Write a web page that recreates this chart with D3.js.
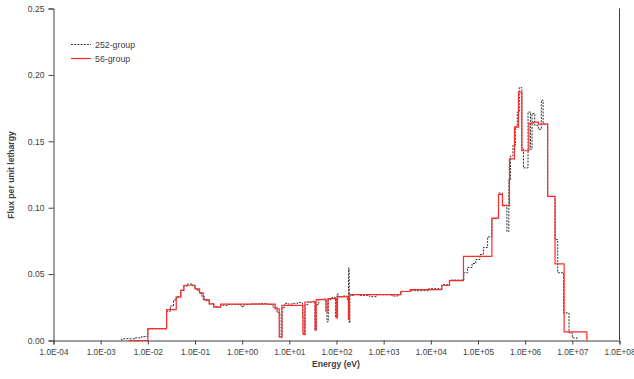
<!DOCTYPE html>
<html>
<head>
<meta charset="utf-8">
<script src="https://cdn.jsdelivr.net/npm/d3@7"></script>
<style>
  html, body { margin: 0; padding: 0; background: #fff; }
  svg { display: block; font-family: "Liberation Sans", Arial, sans-serif; }
</style>
</head>
<body>
<svg id="chart" width="634" height="379"></svg>
<script>
// Axis ticks
const xTicks = [1e-4, 1e-3, 1e-2, 1e-1, 1e0, 1e1, 1e2, 1e3, 1e4, 1e5, 1e6, 1e7, 1e8];
const yTicks = [0, 0.05, 0.10, 0.15, 0.20, 0.25];

// 56-group spectrum: group boundaries (eV) and flux per unit lethargy
const redEdges = [3.9e-3, 1e-2, 0.025, 0.04, 0.05, 0.058, 0.1, 0.125, 0.15, 0.2, 0.25, 0.35,
  5.0, 6.1, 6.95, 19.4, 21.4, 35.3, 37, 60, 65.6, 98.5, 105, 179, 188, 2317, 3650, 17140,
  24850, 49200, 1.97e5, 2.72e5, 3.3e5, 4.65e5, 5.93e5, 7.2e5, 8.5e5, 1.2e6, 1.5e6, 1.91e6,
  3.0e6, 4.3e6, 6.7e6, 2.03e7];
const redFlux = [0, 0.009, 0.0233, 0.0327, 0.0378, 0.0416, 0.0389, 0.0359, 0.0308, 0.0276,
  0.0252, 0.0274, 0.0238, 0.003, 0.0265, 0.005, 0.029, 0.0078, 0.0308, 0.0222, 0.0316, 0.017,
  0.0328, 0.0158, 0.0346, 0.0369, 0.0383, 0.0414, 0.0451, 0.0634, 0.0922, 0.110, 0.1015,
  0.1368, 0.1607, 0.187, 0.1429, 0.1637, 0.1644, 0.163, 0.1085, 0.0577, 0.0065];

// 252-group spectrum: group boundaries (eV) and flux per unit lethargy
const blackEdges = [2.8e-3, 5.4e-3, 7.4e-3, 1e-2, 0.025, 0.03, 0.035, 0.04, 0.05, 0.058, 0.07,
  0.09, 0.1, 0.115, 0.125, 0.14, 0.16, 0.2, 0.25, 0.3, 0.35, 0.5, 0.8, 0.95, 1.1, 1.5, 2.5,
  3.5, 4.5, 5.5, 6.3, 7.0, 8, 9, 12, 15, 19, 20.5, 21.5, 25, 30, 35, 37, 42, 50, 60, 63, 67,
  80, 95, 102, 110, 140, 170, 180, 186, 192, 230, 300, 500, 700, 1500, 2000, 2300, 3600, 9000,
  17000, 25000, 5e4, 6e4, 7.5e4, 9e4, 1.1e5, 1.3e5, 1.6e5, 1.97e5, 2.72e5, 3.3e5, 4.1e5,
  4.5e5, 4.9e5, 5.5e5, 6.2e5, 6.8e5, 7.5e5, 8.5e5, 9.2e5, 1.15e6, 1.3e6, 1.4e6, 1.6e6,
  1.9e6, 2.2e6, 2.4e6, 3.0e6, 4.3e6, 4.9e6, 6.5e6, 8.5e6, 1.0e7, 1.25e7];
const blackFlux = [0.0013, 0.002, 0.003, 0.0088, 0.022, 0.026, 0.0305, 0.033, 0.038, 0.041,
  0.0425, 0.041, 0.039, 0.037, 0.0355, 0.033, 0.030, 0.0275, 0.0255, 0.025, 0.0265, 0.0272,
  0.027, 0.0255, 0.0272, 0.0276, 0.0278, 0.0272, 0.025, 0.021, 0.002, 0.025, 0.028, 0.0275,
  0.028, 0.0285, 0.018, 0.004, 0.027, 0.029, 0.0295, 0.008, 0.027, 0.031, 0.0312, 0.022,
  0.014, 0.031, 0.0325, 0.018, 0.035, 0.033, 0.0335, 0.030, 0.0546, 0.0133, 0.034, 0.0345,
  0.034, 0.033, 0.0345, 0.0335, 0.0345, 0.037, 0.0375, 0.039, 0.042, 0.0455, 0.051, 0.055,
  0.058, 0.061, 0.0647, 0.070, 0.078, 0.092, 0.111, 0.102, 0.082, 0.121, 0.139, 0.147, 0.161,
  0.172, 0.1905, 0.145, 0.130, 0.172, 0.144, 0.171, 0.162, 0.159, 0.181, 0.163, 0.1085,
  0.076, 0.051, 0.0208, 0.0058, 0.002];

const series = [
  { name: "252-group", edges: blackEdges, flux: blackFlux, color: "#333", width: 1, dash: "2,1.2" },
  { name: "56-group", edges: redEdges, flux: redFlux, color: "#ff2a2a", width: 1.2, dash: null }
];

const svg = d3.select("#chart");
const plot = { left: 53.5, right: 619.5, top: 8.5, bottom: 340.5 };

const x = d3.scaleLog().domain([1e-4, 1e8]).range([plot.left, plot.right]);
const y = d3.scaleLinear().domain([0, 0.25]).range([plot.bottom, plot.top]);

const expLabel = d => {
  const e = Math.round(Math.log10(d));
  return "1.0E" + (e < 0 ? "-" : "+") + String(Math.abs(e)).padStart(2, "0");
};

// x axis
const xAxis = svg.append("g")
  .attr("transform", `translate(0,${plot.bottom})`)
  .call(d3.axisBottom(x).tickValues(xTicks).tickFormat(expLabel).tickSizeOuter(0).tickSize(4).tickPadding(5));
xAxis.selectAll("text").attr("font-size", 8.3).attr("fill", "#404040");

// y axis
const yAxis = svg.append("g")
  .attr("transform", `translate(${plot.left},0)`)
  .call(d3.axisLeft(y).tickValues(yTicks).tickFormat(d3.format(".2f")).tickSizeOuter(0).tickSize(5).tickPadding(4));
yAxis.selectAll("text").attr("font-size", 8.6).attr("fill", "#404040");

[xAxis, yAxis].forEach(g => {
  g.select(".domain").attr("stroke", "#404040");
  g.selectAll(".tick line").attr("stroke", "#404040");
});

// right border of the plot area
svg.append("line")
  .attr("x1", plot.right).attr("x2", plot.right).attr("y1", plot.top).attr("y2", plot.bottom)
  .attr("stroke", "#404040");

// step curves
const line = d3.line().x(d => x(d[0])).y(d => y(d[1])).curve(d3.curveStepAfter);
series.forEach(s => {
  const pts = [[s.edges[0], 0]];
  s.flux.forEach((v, i) => pts.push([s.edges[i], v]));
  pts.push([s.edges[s.flux.length], 0]);
  svg.append("path")
    .attr("d", line(pts))
    .attr("fill", "none")
    .attr("stroke", s.color)
    .attr("stroke-width", s.width)
    .attr("stroke-dasharray", s.dash);
});

// legend
const legend = svg.append("g");
series.forEach((s, i) => {
  const ly = 44.5 + i * 14;
  legend.append("line")
    .attr("x1", 71).attr("x2", 91).attr("y1", ly).attr("y2", ly)
    .attr("stroke", s.color).attr("stroke-width", s.width)
    .attr("stroke-dasharray", s.dash);
  legend.append("text")
    .attr("x", 95).attr("y", ly + 3)
    .attr("font-size", 8.8).attr("fill", "#404040")
    .text(s.name);
});

// axis titles
svg.append("text")
  .attr("x", 336).attr("y", 367)
  .attr("text-anchor", "middle")
  .attr("font-size", 8.6).attr("font-weight", "bold").attr("fill", "#404040")
  .text("Energy (eV)");

svg.append("text")
  .attr("transform", "translate(14,175) rotate(-90)")
  .attr("text-anchor", "middle")
  .attr("font-size", 8.6).attr("font-weight", "bold").attr("fill", "#404040")
  .text("Flux per unit lethargy");
</script>
</body>
</html>
